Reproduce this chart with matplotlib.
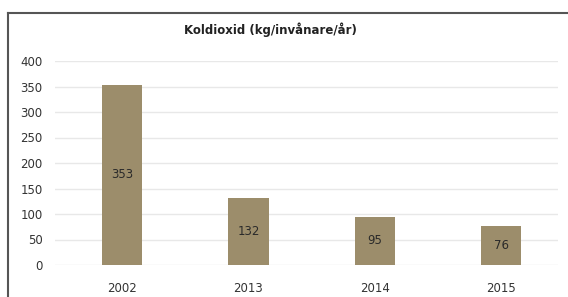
import matplotlib.pyplot as plt
from matplotlib.lines import Line2D

years = ["2002", "2013", "2014", "2015"]
values = [353, 132, 95, 76]
yticks = [0, 50, 100, 150, 200, 250, 300, 350, 400]

fig = plt.figure(figsize=(5.68, 2.97), dpi=100)
ax = fig.add_axes([55 / 568, 1 - 265 / 297, 503 / 568, 204 / 297])

x = range(len(years))
bars = ax.bar(x, values, width=0.32, color="#9c8d6b", zorder=2)
ax.bar_label(bars, labels=[str(v) for v in values], label_type="center",
             fontsize=8.5, color="#2a2a2a")

ax.set_xlim(-0.53, 3.45)
ax.set_ylim(0, 400)
ax.set_yticks(yticks)
ax.set_xticks(list(x))
ax.set_xticklabels(years)
ax.grid(axis="y", color="#e8e8e8", linewidth=1, zorder=0)
for s in ax.spines.values():
    s.set_visible(False)
ax.tick_params(axis="both", length=0, labelsize=8.5, labelcolor="#333333")
ax.tick_params(axis="x", pad=12)
ax.tick_params(axis="y", pad=9)

fig.text(270 / 568, 1 - 30 / 297, "Koldioxid (kg/invånare/år)", ha="center", va="center",
         fontsize=8.5, fontweight="bold", color="#222222")

# frame around the chart (top and left visible)
fig.add_artist(Line2D([8 / 568, 1.0], [1 - 13 / 297] * 2, transform=fig.transFigure,
                      color="#555555", linewidth=1.5))
fig.add_artist(Line2D([8 / 568] * 2, [0.0, 1 - 13 / 297], transform=fig.transFigure,
                      color="#555555", linewidth=1.5))

fig.savefig("out.png", dpi=100)
